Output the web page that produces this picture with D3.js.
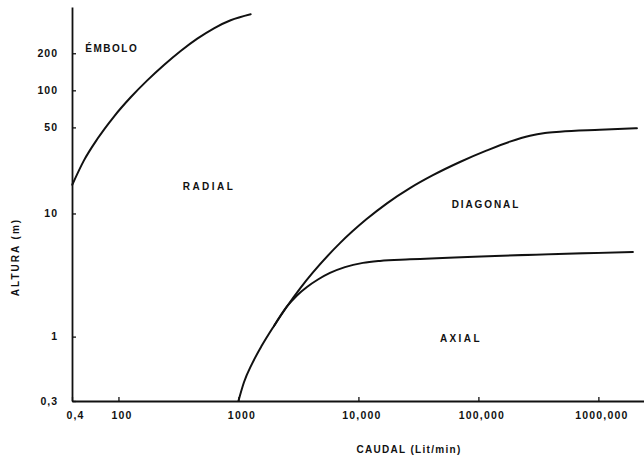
<!DOCTYPE html>
<html>
<head>
<meta charset="utf-8">
<script src="https://cdn.jsdelivr.net/npm/d3@7"></script>
<style>
  html, body { margin: 0; padding: 0; background: #fff; }
  svg { display: block; }
  text { font-family: "Liberation Sans", Arial, sans-serif; font-weight: bold; fill: #111; }
</style>
</head>
<body>
<svg id="chart" width="644" height="458"></svg>
<script>
// Pump selection chart: head (m) versus flow (Lit/min), both on log scales.

// Axis ticks
const xTickValues = [41, 100, 1000, 10000, 100000, 1000000];
const xTickLabels = ["0,4", "100", "1000", "10,000", "100,000", "1000,000"];
const yTickValues = [0.3, 1, 10, 50, 100, 200];
const yTickLabels = ["0,3", "1", "10", "50", "100", "200"];

// Boundary between piston (Émbolo) and radial pumps: [caudal, altura]
const emboloRadial = [
  [41.2, 17.1], [51.6, 27.0], [66.6, 40.2], [91.8, 61.3], [126.5, 87.8],
  [173.9, 120.4], [239.6, 160.6], [330, 208.7], [454, 262.7], [625, 319.1],
  [861, 370.6], [1265, 414.6]
];
// Boundary between radial and diagonal pumps
const radialDiagonal = [
  [1000, 0.3], [1112, 0.426], [1297, 0.601], [1571, 0.849], [1978, 1.22],
  [2538, 1.757], [3257, 2.456], [4179, 3.32], [7016, 5.74], [11710, 9.0],
  [17290, 12.09], [26880, 16.06], [41780, 20.45], [70150, 26.17],
  [117800, 32.5], [183100, 38.3], [268800, 42.8], [358500, 45.0],
  [478000, 46.1], [1030000, 47.8], [2095000, 49.3]
];
// Boundary between diagonal and axial pumps (branches off the curve above)
const diagonalAxial = [
  [1978, 1.22], [2538, 1.757], [3075, 2.16], [3725, 2.53], [4600, 2.91],
  [5793, 3.29], [7724, 3.67], [10910, 3.97], [15120, 4.12], [26880, 4.24],
  [1940000, 4.87]
];

// Region names, where they sit [caudal, altura], and their letter spacing
const regionNames = ["ÉMBOLO", "RADIAL", "DIAGONAL", "AXIAL"];
const regionPos = [[88, 217], [569, 16.7], [115500, 11.9], [71500, 0.957]];
const regionSpacing = [1.5, 2.5, 1.9, 2.4];

const svg = d3.select("#chart");

const x = d3.scaleLog().domain([41, 2.4e6]).range([72, 644]);
const y = d3.scaleLog().domain([0.3, 475]).range([401, 7]);

// X axis
const xAxis = d3.axisBottom(x)
  .tickValues(xTickValues)
  .tickFormat((d, i) => xTickLabels[i])
  .tickSizeInner(-4).tickSizeOuter(0).tickPadding(11);
const gx = svg.append("g").attr("transform", `translate(0,${y(0.3)})`).call(xAxis);
gx.select(".domain").attr("stroke", "#111").attr("stroke-width", 1.8);
gx.selectAll(".tick line").attr("stroke", "#111").attr("stroke-width", 1.3);
gx.selectAll(".tick text")
  .attr("font-size", 10.5).attr("font-family", "Liberation Sans, Arial, sans-serif")
  .attr("font-weight", "bold").attr("fill", "#111")
  .attr("letter-spacing", 1.2).attr("dx", 3);

// Y axis
const yAxis = d3.axisLeft(y)
  .tickValues(yTickValues)
  .tickFormat((d, i) => yTickLabels[i])
  .tickSizeInner(-4).tickSizeOuter(0).tickPadding(14);
const gy = svg.append("g").attr("transform", `translate(${x(41)},0)`).call(yAxis);
gy.select(".domain").attr("stroke", "#111").attr("stroke-width", 1.8);
gy.selectAll(".tick line").attr("stroke", "#111").attr("stroke-width", 1.3);
gy.selectAll(".tick text")
  .attr("font-size", 10.5).attr("font-family", "Liberation Sans, Arial, sans-serif")
  .attr("font-weight", "bold").attr("fill", "#111")
  .attr("letter-spacing", 1);

// Boundary curves
const line = d3.line()
  .x(d => x(d[0])).y(d => y(d[1]))
  .curve(d3.curveMonotoneX);

[emboloRadial, radialDiagonal, diagonalAxial].forEach(pts => {
  svg.append("path")
    .attr("d", line(pts))
    .attr("fill", "none")
    .attr("stroke", "#111")
    .attr("stroke-width", 2)
    .attr("stroke-linecap", "round");
});

// Region labels
svg.selectAll("text.region")
  .data(regionNames)
  .join("text")
  .attr("class", "region")
  .attr("x", (d, i) => x(regionPos[i][0]))
  .attr("y", (d, i) => y(regionPos[i][1]))
  .attr("dy", "0.35em")
  .attr("text-anchor", "middle")
  .attr("font-size", 10)
  .attr("letter-spacing", (d, i) => regionSpacing[i])
  .text(d => d);

// Axis titles
svg.append("text")
  .attr("x", 409).attr("y", 449)
  .attr("dy", "0.35em")
  .attr("text-anchor", "middle")
  .attr("font-size", 10)
  .attr("letter-spacing", 1.3)
  .text("CAUDAL (Lit/min)");

svg.append("text")
  .attr("transform", "translate(15,257) rotate(-90)")
  .attr("dy", "0.35em")
  .attr("text-anchor", "middle")
  .attr("font-size", 10)
  .attr("letter-spacing", 2)
  .text("ALTURA (m)");
</script>
</body>
</html>
